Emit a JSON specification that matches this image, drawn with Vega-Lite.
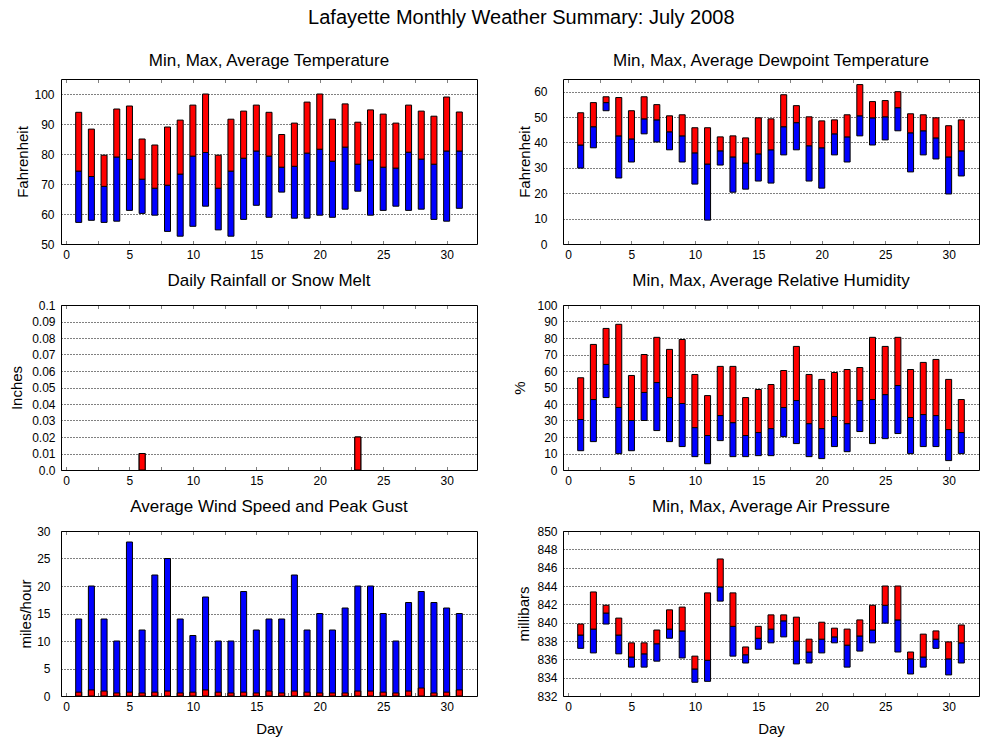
{
  "$schema": "https://vega.github.io/schema/vega-lite/v6.json",
  "autosize": {"type": "pad"},
  "padding": {"left": 9, "top": 8, "right": 5, "bottom": 5},
  "background": "white",
  "title": {"text": "Lafayette Monthly Weather Summary: July 2008", "fontSize": 20, "fontWeight": "normal", "frame": "bounds", "anchor": "middle", "offset": 23, "dx": 27, "color": "black"},
  "config": {
    "font": "Liberation Sans",
    "view": {"stroke": "black", "strokeWidth": 1},
    "title": {"fontSize": 17, "fontWeight": "normal", "color": "black", "offset": 9},
    "axis": {"domain": false, "labelFont": "Liberation Sans", "labelFontSize": 12, "labelColor": "black", "titleFont": "Liberation Sans", "titleFontSize": 15, "titleFontWeight": "normal", "titleColor": "black", "gridColor": "black", "gridDash": [1, 2], "gridOpacity": 1, "gridWidth": 1, "ticks": false}
  },
  "datasets": {
    "temp": [
      {"day": 1, "min": 57.2, "avg": 74.3, "max": 93.9}, {"day": 2, "min": 57.9, "avg": 72.5, "max": 88.3}, {"day": 3, "min": 57.2, "avg": 69.2, "max": 79.6}, {"day": 4, "min": 57.6, "avg": 79.0, "max": 95.0}, {"day": 5, "min": 61.2, "avg": 78.2, "max": 96.0}, {"day": 6, "min": 60.2, "avg": 71.6, "max": 85.0}, {"day": 7, "min": 59.6, "avg": 68.6, "max": 83.0}, {"day": 8, "min": 54.2, "avg": 69.6, "max": 89.0}, {"day": 9, "min": 52.6, "avg": 73.3, "max": 91.3}, {"day": 10, "min": 55.9, "avg": 79.3, "max": 96.3}, {"day": 11, "min": 62.6, "avg": 80.5, "max": 100.0}, {"day": 12, "min": 54.7, "avg": 68.6, "max": 79.6}, {"day": 13, "min": 52.6, "avg": 74.3, "max": 91.6}, {"day": 14, "min": 58.2, "avg": 78.6, "max": 94.3}, {"day": 15, "min": 62.9, "avg": 81.0, "max": 96.3}, {"day": 16, "min": 58.9, "avg": 79.3, "max": 93.9}, {"day": 17, "min": 67.3, "avg": 75.6, "max": 86.5}, {"day": 18, "min": 58.6, "avg": 75.9, "max": 90.3}, {"day": 19, "min": 58.6, "avg": 80.3, "max": 97.3}, {"day": 20, "min": 59.6, "avg": 81.6, "max": 100.0}, {"day": 21, "min": 58.9, "avg": 77.6, "max": 91.6}, {"day": 22, "min": 61.6, "avg": 82.3, "max": 96.7}, {"day": 23, "min": 67.6, "avg": 76.6, "max": 90.6}, {"day": 24, "min": 59.6, "avg": 78.0, "max": 94.7}, {"day": 25, "min": 61.2, "avg": 75.6, "max": 93.3}, {"day": 26, "min": 62.6, "avg": 75.3, "max": 90.3}, {"day": 27, "min": 61.2, "avg": 80.6, "max": 96.3}, {"day": 28, "min": 61.6, "avg": 78.3, "max": 94.3}, {"day": 29, "min": 58.2, "avg": 76.6, "max": 92.6}, {"day": 30, "min": 57.6, "avg": 81.0, "max": 99.0}, {"day": 31, "min": 61.9, "avg": 81.0, "max": 94.0}
    ],
    "dew": [
      {"day": 1, "min": 29.9, "avg": 39.0, "max": 51.7}, {"day": 2, "min": 37.9, "avg": 46.2, "max": 55.7}, {"day": 3, "min": 52.5, "avg": 55.7, "max": 58.0}, {"day": 4, "min": 26.0, "avg": 42.6, "max": 57.7}, {"day": 5, "min": 32.3, "avg": 41.4, "max": 52.5}, {"day": 6, "min": 43.4, "avg": 49.3, "max": 58.0}, {"day": 7, "min": 40.2, "avg": 48.9, "max": 54.9}, {"day": 8, "min": 37.1, "avg": 44.2, "max": 50.5}, {"day": 9, "min": 32.3, "avg": 42.6, "max": 50.9}, {"day": 10, "min": 23.6, "avg": 35.9, "max": 45.8}, {"day": 11, "min": 9.4, "avg": 31.5, "max": 45.8}, {"day": 12, "min": 31.1, "avg": 36.7, "max": 42.2}, {"day": 13, "min": 20.4, "avg": 34.3, "max": 42.6}, {"day": 14, "min": 21.6, "avg": 31.9, "max": 41.8}, {"day": 15, "min": 24.8, "avg": 35.5, "max": 49.7}, {"day": 16, "min": 24.0, "avg": 37.1, "max": 49.3}, {"day": 17, "min": 35.1, "avg": 46.2, "max": 58.8}, {"day": 18, "min": 37.1, "avg": 47.8, "max": 54.5}, {"day": 19, "min": 24.8, "avg": 38.7, "max": 50.1}, {"day": 20, "min": 22.0, "avg": 37.9, "max": 48.5}, {"day": 21, "min": 35.1, "avg": 43.4, "max": 48.9}, {"day": 22, "min": 32.3, "avg": 42.2, "max": 50.9}, {"day": 23, "min": 42.6, "avg": 50.5, "max": 62.8}, {"day": 24, "min": 39.0, "avg": 49.7, "max": 56.1}, {"day": 25, "min": 41.0, "avg": 50.1, "max": 56.5}, {"day": 26, "min": 44.6, "avg": 53.7, "max": 60.0}, {"day": 27, "min": 28.4, "avg": 43.8, "max": 51.3}, {"day": 28, "min": 35.1, "avg": 44.6, "max": 50.9}, {"day": 29, "min": 33.5, "avg": 41.8, "max": 49.7}, {"day": 30, "min": 19.7, "avg": 34.3, "max": 46.6}, {"day": 31, "min": 26.8, "avg": 36.7, "max": 48.9}
    ],
    "rain": [
      {"day": 6, "rain": 0.01}, {"day": 23, "rain": 0.02}
    ],
    "hum": [
      {"day": 1, "min": 11.7, "avg": 30.6, "max": 55.9}, {"day": 2, "min": 17.2, "avg": 42.7, "max": 76.1}, {"day": 3, "min": 43.9, "avg": 64.0, "max": 85.8}, {"day": 4, "min": 9.9, "avg": 37.9, "max": 88.3}, {"day": 5, "min": 11.7, "avg": 30.0, "max": 57.3}, {"day": 6, "min": 30.0, "avg": 47.0, "max": 70.0}, {"day": 7, "min": 23.9, "avg": 53.0, "max": 80.4}, {"day": 8, "min": 17.2, "avg": 43.9, "max": 73.1}, {"day": 9, "min": 14.2, "avg": 40.3, "max": 79.1}, {"day": 10, "min": 8.1, "avg": 25.7, "max": 57.9}, {"day": 11, "min": 3.8, "avg": 20.9, "max": 45.1}, {"day": 12, "min": 17.8, "avg": 33.0, "max": 62.8}, {"day": 13, "min": 8.1, "avg": 28.7, "max": 62.8}, {"day": 14, "min": 8.1, "avg": 20.9, "max": 43.9}, {"day": 15, "min": 8.7, "avg": 22.7, "max": 48.8}, {"day": 16, "min": 8.7, "avg": 25.1, "max": 51.8}, {"day": 17, "min": 20.2, "avg": 37.9, "max": 60.3}, {"day": 18, "min": 16.0, "avg": 42.1, "max": 74.9}, {"day": 19, "min": 8.1, "avg": 28.1, "max": 57.9}, {"day": 20, "min": 6.9, "avg": 25.1, "max": 54.9}, {"day": 21, "min": 14.2, "avg": 32.4, "max": 59.1}, {"day": 22, "min": 11.1, "avg": 28.1, "max": 60.9}, {"day": 23, "min": 23.3, "avg": 42.1, "max": 62.1}, {"day": 24, "min": 16.0, "avg": 42.7, "max": 80.4}, {"day": 25, "min": 19.0, "avg": 45.7, "max": 74.9}, {"day": 26, "min": 22.1, "avg": 51.2, "max": 80.4}, {"day": 27, "min": 9.9, "avg": 31.8, "max": 60.9}, {"day": 28, "min": 14.2, "avg": 33.6, "max": 65.2}, {"day": 29, "min": 14.2, "avg": 33.0, "max": 67.0}, {"day": 30, "min": 5.7, "avg": 24.5, "max": 54.9}, {"day": 31, "min": 9.9, "avg": 22.7, "max": 42.7}
    ],
    "wind": [
      {"day": 1, "gust": 14, "avg": 0.7}, {"day": 2, "gust": 20, "avg": 1.1}, {"day": 3, "gust": 14, "avg": 0.9}, {"day": 4, "gust": 10, "avg": 0.55}, {"day": 5, "gust": 28, "avg": 0.7}, {"day": 6, "gust": 12, "avg": 0.55}, {"day": 7, "gust": 22, "avg": 0.7}, {"day": 8, "gust": 25, "avg": 0.9}, {"day": 9, "gust": 14, "avg": 0.55}, {"day": 10, "gust": 11, "avg": 0.7}, {"day": 11, "gust": 18, "avg": 1.1}, {"day": 12, "gust": 10, "avg": 0.7}, {"day": 13, "gust": 10, "avg": 0.55}, {"day": 14, "gust": 19, "avg": 0.7}, {"day": 15, "gust": 12, "avg": 0.55}, {"day": 16, "gust": 14, "avg": 0.9}, {"day": 17, "gust": 14, "avg": 0.55}, {"day": 18, "gust": 22, "avg": 0.9}, {"day": 19, "gust": 12, "avg": 0.7}, {"day": 20, "gust": 15, "avg": 0.55}, {"day": 21, "gust": 12, "avg": 0.55}, {"day": 22, "gust": 16, "avg": 0.55}, {"day": 23, "gust": 20, "avg": 0.9}, {"day": 24, "gust": 20, "avg": 0.9}, {"day": 25, "gust": 15, "avg": 0.7}, {"day": 26, "gust": 10, "avg": 0.55}, {"day": 27, "gust": 17, "avg": 0.9}, {"day": 28, "gust": 19, "avg": 1.45}, {"day": 29, "gust": 17, "avg": 0.55}, {"day": 30, "gust": 16, "avg": 0.7}, {"day": 31, "gust": 15, "avg": 1.1}
    ],
    "pres": [
      {"day": 1, "min": 837.2, "avg": 838.65, "max": 839.85}, {"day": 2, "min": 836.7, "avg": 839.3, "max": 843.35}, {"day": 3, "min": 839.85, "avg": 841.05, "max": 841.9}, {"day": 4, "min": 836.6, "avg": 838.65, "max": 840.5}, {"day": 5, "min": 835.15, "avg": 836.25, "max": 837.8}, {"day": 6, "min": 835.15, "avg": 836.6, "max": 837.8}, {"day": 7, "min": 835.8, "avg": 837.7, "max": 839.2}, {"day": 8, "min": 838.3, "avg": 839.3, "max": 841.4}, {"day": 9, "min": 836.15, "avg": 839.1, "max": 841.7}, {"day": 10, "min": 833.5, "avg": 834.95, "max": 836.35}, {"day": 11, "min": 833.6, "avg": 835.9, "max": 843.25}, {"day": 12, "min": 842.35, "avg": 843.9, "max": 846.95}, {"day": 13, "min": 836.35, "avg": 839.6, "max": 843.25}, {"day": 14, "min": 835.6, "avg": 836.5, "max": 837.35}, {"day": 15, "min": 837.1, "avg": 838.3, "max": 839.6}, {"day": 16, "min": 837.8, "avg": 839.3, "max": 840.85}, {"day": 17, "min": 838.45, "avg": 840.2, "max": 840.85}, {"day": 18, "min": 835.5, "avg": 838.0, "max": 840.6}, {"day": 19, "min": 835.6, "avg": 836.8, "max": 838.2}, {"day": 20, "min": 836.7, "avg": 838.2, "max": 840.05}, {"day": 21, "min": 837.8, "avg": 838.45, "max": 839.4}, {"day": 22, "min": 835.15, "avg": 837.55, "max": 839.3}, {"day": 23, "min": 836.9, "avg": 838.55, "max": 840.3}, {"day": 24, "min": 837.8, "avg": 839.2, "max": 841.9}, {"day": 25, "min": 839.95, "avg": 841.9, "max": 844.0}, {"day": 26, "min": 836.8, "avg": 840.3, "max": 844.0}, {"day": 27, "min": 834.4, "avg": 836.05, "max": 836.8}, {"day": 28, "min": 835.15, "avg": 836.25, "max": 838.75}, {"day": 29, "min": 837.2, "avg": 838.2, "max": 839.1}, {"day": 30, "min": 834.3, "avg": 836.05, "max": 837.9}, {"day": 31, "min": 835.6, "avg": 837.8, "max": 839.75}
    ]
  },
  "columns": 2,
  "spacing": {"row": 61, "column": 86},
  "bounds": "flush",
  "concat": [
    {
      "title": "Min, Max, Average Temperature",
      "width": 416, "height": 165,
      "data": {"name": "temp"},
      "resolve": {"axis": {"x": "independent"}},
      "layer": [
        {
          "mark": {"type": "bar", "width": 6, "color": "#0000ff", "stroke": "black", "strokeWidth": 1},
          "encoding": {
            "x": {"field": "day", "type": "quantitative", "scale": {"domain": [0, 32]}, "axis": {"orient": "bottom", "values": [0, 2.5, 5, 7.5, 10, 12.5, 15, 17.5, 20, 22.5, 25, 27.5, 30], "labelExpr": "datum.value % 5 == 0 ? datum.label : ''", "grid": false, "ticks": true, "tickSize": -4, "tickDash": [1, 1], "tickColor": "black", "labelPadding": 9, "title": null}},
            "y": {"field": "min", "type": "quantitative", "scale": {"domain": [50, 105]}, "axis": {"title": "Fahrenheit", "values": [50, 60, 70, 80, 90, 100], "grid": true, "labelPadding": 7, "titlePadding": 3}},
            "y2": {"field": "avg"}
          }
        },
        {
          "mark": {"type": "bar", "width": 6, "color": "#ff0000", "stroke": "black", "strokeWidth": 1},
          "encoding": {
            "x": {"field": "day", "type": "quantitative", "scale": {"domain": [0, 32]}, "axis": {"orient": "top", "values": [0, 2.5, 5, 7.5, 10, 12.5, 15, 17.5, 20, 22.5, 25, 27.5, 30], "labels": false, "grid": false, "ticks": true, "tickSize": -4, "tickDash": [1, 1], "tickColor": "black", "title": null}},
            "y": {"field": "avg", "type": "quantitative", "scale": {"domain": [50, 105]}, "axis": {"title": "Fahrenheit", "values": [50, 60, 70, 80, 90, 100], "grid": true, "labelPadding": 7, "titlePadding": 3}},
            "y2": {"field": "max"}
          }
        }
      ]
    },
    {
      "title": "Min, Max, Average Dewpoint Temperature",
      "width": 416, "height": 165,
      "data": {"name": "dew"},
      "resolve": {"axis": {"x": "independent"}},
      "layer": [
        {
          "mark": {"type": "bar", "width": 6, "color": "#0000ff", "stroke": "black", "strokeWidth": 1},
          "encoding": {
            "x": {"field": "day", "type": "quantitative", "scale": {"domain": [0, 32]}, "axis": {"orient": "bottom", "values": [0, 2.5, 5, 7.5, 10, 12.5, 15, 17.5, 20, 22.5, 25, 27.5, 30], "labelExpr": "datum.value % 5 == 0 ? datum.label : ''", "grid": false, "ticks": true, "tickSize": -4, "tickDash": [1, 1], "tickColor": "black", "labelPadding": 9, "title": null}},
            "y": {"field": "min", "type": "quantitative", "scale": {"domain": [0, 65]}, "axis": {"title": "Fahrenheit", "values": [0, 10, 20, 30, 40, 50, 60], "grid": true, "labelPadding": 16, "titlePadding": 1}},
            "y2": {"field": "avg"}
          }
        },
        {
          "mark": {"type": "bar", "width": 6, "color": "#ff0000", "stroke": "black", "strokeWidth": 1},
          "encoding": {
            "x": {"field": "day", "type": "quantitative", "scale": {"domain": [0, 32]}, "axis": {"orient": "top", "values": [0, 2.5, 5, 7.5, 10, 12.5, 15, 17.5, 20, 22.5, 25, 27.5, 30], "labels": false, "grid": false, "ticks": true, "tickSize": -4, "tickDash": [1, 1], "tickColor": "black", "title": null}},
            "y": {"field": "avg", "type": "quantitative", "scale": {"domain": [0, 65]}, "axis": {"title": "Fahrenheit", "values": [0, 10, 20, 30, 40, 50, 60], "grid": true, "labelPadding": 16, "titlePadding": 1}},
            "y2": {"field": "max"}
          }
        }
      ]
    },
    {
      "title": "Daily Rainfall or Snow Melt",
      "width": 416, "height": 165,
      "data": {"name": "rain"},
      "resolve": {"axis": {"x": "independent"}},
      "layer": [
        {
          "mark": {"type": "bar", "width": 6, "color": "#ff0000", "stroke": "black", "strokeWidth": 1},
          "encoding": {
            "x": {"field": "day", "type": "quantitative", "scale": {"domain": [0, 32]}, "axis": {"orient": "bottom", "values": [0, 2.5, 5, 7.5, 10, 12.5, 15, 17.5, 20, 22.5, 25, 27.5, 30], "labelExpr": "datum.value % 5 == 0 ? datum.label : ''", "grid": false, "ticks": true, "tickSize": -4, "tickDash": [1, 1], "tickColor": "black", "labelPadding": 9, "title": null}},
            "y": {"field": "rain", "type": "quantitative", "scale": {"domain": [0, 0.1]}, "axis": {"title": "Inches", "values": [0, 0.01, 0.02, 0.03, 0.04, 0.05, 0.06, 0.07, 0.08, 0.09, 0.1], "labelExpr": "datum.value == 0 ? '0.0' : format(datum.value, '~g')", "grid": true, "labelPadding": 6, "titlePadding": 7}}
          }
        },
        {
          "mark": {"type": "bar", "width": 6, "color": "#ff0000", "stroke": "black", "strokeWidth": 1},
          "encoding": {
            "x": {"field": "day", "type": "quantitative", "scale": {"domain": [0, 32]}, "axis": {"orient": "top", "values": [0, 2.5, 5, 7.5, 10, 12.5, 15, 17.5, 20, 22.5, 25, 27.5, 30], "labels": false, "grid": false, "ticks": true, "tickSize": -4, "tickDash": [1, 1], "tickColor": "black", "title": null}},
            "y": {"field": "rain", "type": "quantitative", "scale": {"domain": [0, 0.1]}, "axis": {"title": "Inches", "values": [0, 0.01, 0.02, 0.03, 0.04, 0.05, 0.06, 0.07, 0.08, 0.09, 0.1], "labelExpr": "datum.value == 0 ? '0.0' : format(datum.value, '~g')", "grid": true, "labelPadding": 6, "titlePadding": 7}}
          }
        }
      ]
    },
    {
      "title": "Min, Max, Average Relative Humidity",
      "width": 416, "height": 165,
      "data": {"name": "hum"},
      "resolve": {"axis": {"x": "independent"}},
      "layer": [
        {
          "mark": {"type": "bar", "width": 6, "color": "#0000ff", "stroke": "black", "strokeWidth": 1},
          "encoding": {
            "x": {"field": "day", "type": "quantitative", "scale": {"domain": [0, 32]}, "axis": {"orient": "bottom", "values": [0, 2.5, 5, 7.5, 10, 12.5, 15, 17.5, 20, 22.5, 25, 27.5, 30], "labelExpr": "datum.value % 5 == 0 ? datum.label : ''", "grid": false, "ticks": true, "tickSize": -4, "tickDash": [1, 1], "tickColor": "black", "labelPadding": 9, "title": null}},
            "y": {"field": "min", "type": "quantitative", "scale": {"domain": [0, 100]}, "axis": {"title": "%", "values": [0, 10, 20, 30, 40, 50, 60, 70, 80, 90, 100], "grid": true, "labelPadding": 6, "titlePadding": 9}},
            "y2": {"field": "avg"}
          }
        },
        {
          "mark": {"type": "bar", "width": 6, "color": "#ff0000", "stroke": "black", "strokeWidth": 1},
          "encoding": {
            "x": {"field": "day", "type": "quantitative", "scale": {"domain": [0, 32]}, "axis": {"orient": "top", "values": [0, 2.5, 5, 7.5, 10, 12.5, 15, 17.5, 20, 22.5, 25, 27.5, 30], "labels": false, "grid": false, "ticks": true, "tickSize": -4, "tickDash": [1, 1], "tickColor": "black", "title": null}},
            "y": {"field": "avg", "type": "quantitative", "scale": {"domain": [0, 100]}, "axis": {"title": "%", "values": [0, 10, 20, 30, 40, 50, 60, 70, 80, 90, 100], "grid": true, "labelPadding": 6, "titlePadding": 9}},
            "y2": {"field": "max"}
          }
        }
      ]
    },
    {
      "title": "Average Wind Speed and Peak Gust",
      "width": 416, "height": 165,
      "data": {"name": "wind"},
      "resolve": {"axis": {"x": "independent"}},
      "layer": [
        {
          "mark": {"type": "bar", "width": 6, "color": "#0000ff", "stroke": "black", "strokeWidth": 1},
          "encoding": {
            "x": {"field": "day", "type": "quantitative", "scale": {"domain": [0, 32]}, "axis": {"orient": "bottom", "values": [0, 2.5, 5, 7.5, 10, 12.5, 15, 17.5, 20, 22.5, 25, 27.5, 30], "labelExpr": "datum.value % 5 == 0 ? datum.label : ''", "grid": false, "ticks": true, "tickSize": -4, "tickDash": [1, 1], "tickColor": "black", "labelPadding": 9, "title": "Day", "titlePadding": 9}},
            "y": {"field": "gust", "type": "quantitative", "scale": {"domain": [0, 30]}, "axis": {"title": "miles/hour", "values": [0, 5, 10, 15, 20, 25, 30], "grid": true, "labelPadding": 11, "titlePadding": 3}}
          }
        },
        {
          "mark": {"type": "bar", "width": 6, "color": "#ff0000", "stroke": "black", "strokeWidth": 1},
          "encoding": {
            "x": {"field": "day", "type": "quantitative", "scale": {"domain": [0, 32]}, "axis": {"orient": "top", "values": [0, 2.5, 5, 7.5, 10, 12.5, 15, 17.5, 20, 22.5, 25, 27.5, 30], "labels": false, "grid": false, "ticks": true, "tickSize": -4, "tickDash": [1, 1], "tickColor": "black", "title": null}},
            "y": {"field": "avg", "type": "quantitative", "scale": {"domain": [0, 30]}, "axis": {"title": "miles/hour", "values": [0, 5, 10, 15, 20, 25, 30], "grid": true, "labelPadding": 11, "titlePadding": 3}}
          }
        }
      ]
    },
    {
      "title": "Min, Max, Average Air Pressure",
      "width": 416, "height": 165,
      "data": {"name": "pres"},
      "resolve": {"axis": {"x": "independent"}},
      "layer": [
        {
          "mark": {"type": "bar", "width": 6, "color": "#0000ff", "stroke": "black", "strokeWidth": 1},
          "encoding": {
            "x": {"field": "day", "type": "quantitative", "scale": {"domain": [0, 32]}, "axis": {"orient": "bottom", "values": [0, 2.5, 5, 7.5, 10, 12.5, 15, 17.5, 20, 22.5, 25, 27.5, 30], "labelExpr": "datum.value % 5 == 0 ? datum.label : ''", "grid": false, "ticks": true, "tickSize": -4, "tickDash": [1, 1], "tickColor": "black", "labelPadding": 9, "title": "Day", "titlePadding": 9}},
            "y": {"field": "min", "type": "quantitative", "scale": {"domain": [832, 850]}, "axis": {"title": "millibars", "values": [832, 834, 836, 838, 840, 842, 844, 846, 848, 850], "grid": true, "labelPadding": 6, "titlePadding": 5}},
            "y2": {"field": "avg"}
          }
        },
        {
          "mark": {"type": "bar", "width": 6, "color": "#ff0000", "stroke": "black", "strokeWidth": 1},
          "encoding": {
            "x": {"field": "day", "type": "quantitative", "scale": {"domain": [0, 32]}, "axis": {"orient": "top", "values": [0, 2.5, 5, 7.5, 10, 12.5, 15, 17.5, 20, 22.5, 25, 27.5, 30], "labels": false, "grid": false, "ticks": true, "tickSize": -4, "tickDash": [1, 1], "tickColor": "black", "title": null}},
            "y": {"field": "avg", "type": "quantitative", "scale": {"domain": [832, 850]}, "axis": {"title": "millibars", "values": [832, 834, 836, 838, 840, 842, 844, 846, 848, 850], "grid": true, "labelPadding": 6, "titlePadding": 5}},
            "y2": {"field": "max"}
          }
        }
      ]
    }
  ]
}
